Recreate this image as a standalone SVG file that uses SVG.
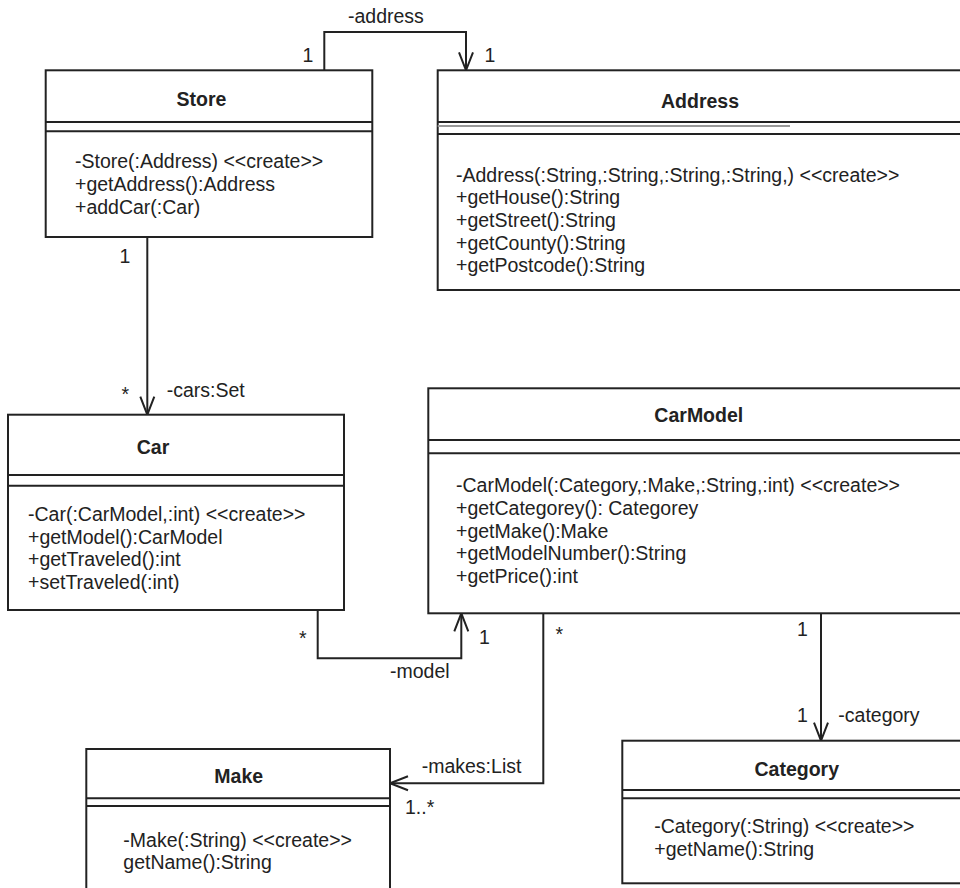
<svg xmlns="http://www.w3.org/2000/svg" width="960" height="888" viewBox="0 0 960 888">
<style>
text{font-family:"Liberation Sans",Arial,sans-serif;font-size:19.5px;fill:#222}
.t{font-weight:bold;text-anchor:middle}
.box{fill:#fff;stroke:#222;stroke-width:2}
.sep{stroke:#222;stroke-width:2}
.c{fill:none;stroke:#222;stroke-width:2}
</style>
<defs>
<marker id="arr" markerUnits="userSpaceOnUse" markerWidth="24" markerHeight="20" refX="0" refY="0" viewBox="-20 -10 24 20" orient="auto" overflow="visible">
<path d="M-18,-7 L0,0 L-18,7" fill="none" stroke="#222" stroke-width="2"/>
</marker>
</defs>
<rect width="960" height="888" fill="#fff"/>

<g id="connectors">
<polyline class="c" points="324.3,70.3 324.3,32 466,32 466,70.3" marker-end="url(#arr)"/>
<text x="348" y="22.7">-address</text>
<text x="302.5" y="61.7">1</text>
<text x="484.5" y="61.7">1</text>

<polyline class="c" points="147.3,237 147.3,414.7" marker-end="url(#arr)"/>
<text x="119.5" y="263.3">1</text>
<text x="121.5" y="401">*</text>
<text x="166.7" y="396.7">-cars:Set</text>

<polyline class="c" points="317.7,610 317.7,658.3 461.3,658.3 461.3,613.3" marker-end="url(#arr)"/>
<text x="299" y="645">*</text>
<text x="479" y="644.3">1</text>
<text x="390" y="678.3">-model</text>

<polyline class="c" points="543.3,613.3 543.3,783.3 390,783.3" marker-end="url(#arr)"/>
<text x="555.5" y="640.5">*</text>
<text x="421.7" y="772.7">-makes:List</text>
<text x="405" y="814">1..*</text>

<polyline class="c" points="821,613.3 821,740.7" marker-end="url(#arr)"/>
<text x="797" y="636">1</text>
<text x="797" y="721.7">1</text>
<text x="838.3" y="721.7">-category</text>
</g>

<g id="Store">
<rect class="box" x="45.7" y="70.3" width="326.6" height="166.7"/>
<line class="sep" x1="45.7" y1="122" x2="372.3" y2="122"/>
<line class="sep" x1="45.7" y1="131.3" x2="372.3" y2="131.3"/>
<text class="t" x="201.5" y="106">Store</text>
<text x="75" y="168.3">-Store(:Address) &lt;&lt;create&gt;&gt;</text>
<text x="75" y="190.9">+getAddress():Address</text>
<text x="75" y="213.5">+addCar(:Car)</text>
</g>

<g id="Address">
<rect class="box" x="437.7" y="70.3" width="530" height="219.7"/>
<line class="sep" x1="437.7" y1="122" x2="962" y2="122"/>
<line x1="437.7" y1="126" x2="790" y2="126" stroke="#999" stroke-width="2"/>
<line class="sep" x1="437.7" y1="134" x2="962" y2="134"/>
<text class="t" x="700" y="108.3">Address</text>
<text x="456" y="181.5">-Address(:String,:String,:String,:String,) &lt;&lt;create&gt;&gt;</text>
<text x="456" y="204.2">+getHouse():String</text>
<text x="456" y="226.9">+getStreet():String</text>
<text x="456" y="249.6">+getCounty():String</text>
<text x="456" y="272.3">+getPostcode():String</text>
</g>

<g id="Car">
<rect class="box" x="8" y="414.7" width="336" height="195.3"/>
<line class="sep" x1="8" y1="475" x2="344" y2="475"/>
<line class="sep" x1="8" y1="485.7" x2="344" y2="485.7"/>
<text class="t" x="153" y="454.3">Car</text>
<text x="28" y="521">-Car(:CarModel,:int) &lt;&lt;create&gt;&gt;</text>
<text x="28" y="543.6">+getModel():CarModel</text>
<text x="28" y="566.3">+getTraveled():int</text>
<text x="28" y="589">+setTraveled(:int)</text>
</g>

<g id="CarModel">
<rect class="box" x="428.3" y="388.3" width="540" height="225"/>
<line class="sep" x1="428.3" y1="440" x2="962" y2="440"/>
<line class="sep" x1="428.3" y1="453.3" x2="962" y2="453.3"/>
<text class="t" x="698.8" y="422.3">CarModel</text>
<text x="456" y="492.3">-CarModel(:Category,:Make,:String,:int) &lt;&lt;create&gt;&gt;</text>
<text x="456" y="515">+getCategorey(): Categorey</text>
<text x="456" y="537.6">+getMake():Make</text>
<text x="456" y="560.2">+getModelNumber():String</text>
<text x="456" y="582.8">+getPrice():int</text>
</g>

<g id="Make">
<rect class="box" x="86.3" y="749" width="303.7" height="150"/>
<line class="sep" x1="86.3" y1="798.3" x2="390" y2="798.3"/>
<line class="sep" x1="86.3" y1="806" x2="390" y2="806"/>
<text class="t" x="238.7" y="783.3">Make</text>
<text x="123.3" y="847.3">-Make(:String) &lt;&lt;create&gt;&gt;</text>
<text x="123.3" y="869.3">getName():String</text>
</g>

<g id="Category">
<rect class="box" x="622.3" y="740.7" width="345" height="142.6"/>
<line class="sep" x1="622.3" y1="790" x2="962" y2="790"/>
<line class="sep" x1="622.3" y1="798.3" x2="962" y2="798.3"/>
<text class="t" x="796.8" y="776">Category</text>
<text x="654.3" y="833.3">-Category(:String) &lt;&lt;create&gt;&gt;</text>
<text x="654.3" y="856">+getName():String</text>
</g>
</svg>
